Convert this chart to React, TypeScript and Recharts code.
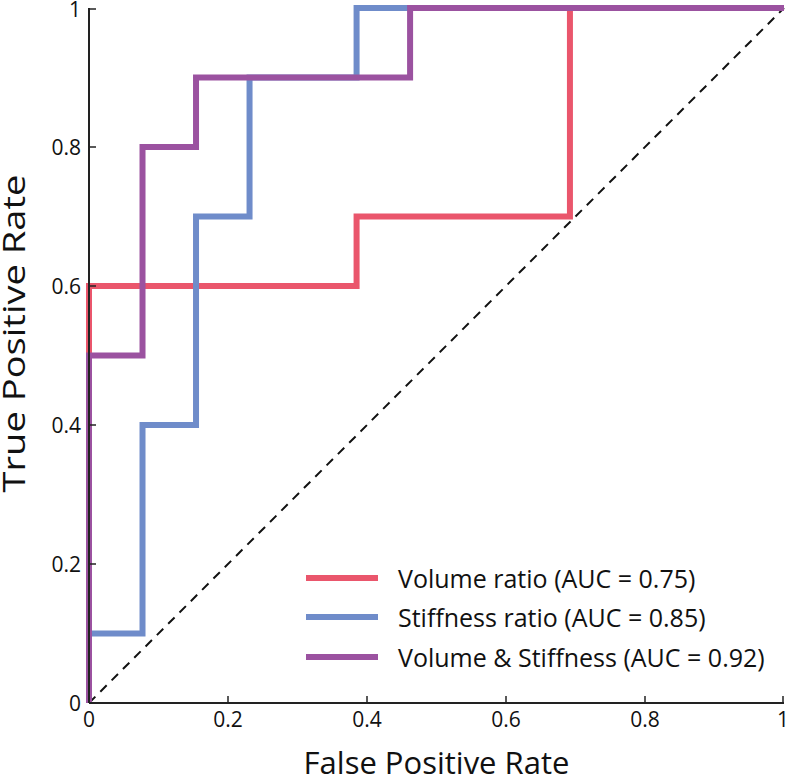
import React from 'react';
import { ComposedChart, Line, XAxis, YAxis, Legend } from 'recharts';

const tickValues = [0, 0.2, 0.4, 0.6, 0.8, 1];
const tickLabels = ['0', '0.2', '0.4', '0.6', '0.8', '1'];

const seriesNames = ['Volume ratio (AUC = 0.75)', 'Stiffness ratio (AUC = 0.85)', 'Volume & Stiffness (AUC = 0.92)'];

// chance diagonal
const chanceFpr = [0, 1];
const chanceTpr = [0, 1];

// ROC corner points (FPR steps of 1/13)
const volumeFpr = [0, 0, 0.385, 0.385, 0.692, 0.692, 1];
const volumeTpr = [0, 0.6, 0.6, 0.7, 0.7, 1, 1];

const stiffnessFpr = [0, 0, 0.077, 0.077, 0.154, 0.154, 0.231, 0.231, 0.385, 0.385, 1];
const stiffnessTpr = [0, 0.1, 0.1, 0.4, 0.4, 0.7, 0.7, 0.9, 0.9, 1, 1];

const combinedFpr = [0, 0, 0.077, 0.077, 0.154, 0.154, 0.462, 0.462, 1];
const combinedTpr = [0, 0.5, 0.5, 0.8, 0.8, 0.9, 0.9, 1, 1];

const toPoints = (fpr: number[], tpr: number[]) => fpr.map((x, i) => ({ fpr: x, tpr: tpr[i] }));

const FONT = '"Open Sans", "Noto Sans", sans-serif';
const AXIS = '#222';

const labelOf = (v: number) => tickLabels[tickValues.indexOf(v)] ?? String(v);

const BottomTick = (props: any) => {
  const { x, y, payload } = props;
  return (
    <g>
      <line x1={x} y1={y} x2={x} y2={y - 7} stroke={AXIS} strokeWidth={1.5} />
      <text x={x} y={y + 24} textAnchor="middle" fontSize={21} fill="#111" fontFamily={FONT}>
        {labelOf(payload.value)}
      </text>
    </g>
  );
};

const LeftTick = (props: any) => {
  const { x, y, payload } = props;
  return (
    <g>
      <line x1={x} y1={y} x2={x + 7} y2={y} stroke={AXIS} strokeWidth={1.5} />
      <text x={x - 8} y={y + 7.5} textAnchor="end" fontSize={21} fill="#111" fontFamily={FONT}>
        {labelOf(payload.value)}
      </text>
    </g>
  );
};

const TopTick = (props: any) => {
  const { x, y } = props;
  return <line x1={x} y1={y} x2={x} y2={y + 7} stroke={AXIS} strokeWidth={1.5} />;
};

const RightTick = (props: any) => {
  const { x, y } = props;
  return <line x1={x} y1={y} x2={x - 7} y2={y} stroke={AXIS} strokeWidth={1.5} />;
};

// y title is drawn a bit stretched in the original figure
const YTitle = (props: any) => {
  const { viewBox } = props;
  const cx = 25;
  const cy = viewBox.y + viewBox.height / 2 - 22;
  return (
    <text
      x={cx}
      y={cy}
      transform={`rotate(-90 ${cx} ${cy})`}
      textAnchor="middle"
      fontSize={31}
      fill="#111"
      fontFamily={FONT}
      textLength={318}
      lengthAdjust="spacingAndGlyphs"
    >
      True Positive Rate
    </text>
  );
};

const LegendRows = (props: any) => {
  const items = (props.payload || [])
    .filter((p: any) => seriesNames.includes(p.value))
    .sort((a: any, b: any) => seriesNames.indexOf(a.value) - seriesNames.indexOf(b.value));
  return (
    <div style={{ fontFamily: FONT }}>
      {items.map((p: any) => (
        <div key={p.value} style={{ display: 'flex', alignItems: 'center', height: 39.5 }}>
          <span style={{ display: 'inline-block', width: 72, height: 6, background: p.color, marginRight: 20 }} />
          <span style={{ fontSize: 25, color: '#111', whiteSpace: 'nowrap' }}>{p.value}</span>
        </div>
      ))}
    </div>
  );
};

export default function App() {
  return (
    <div style={{ position: 'absolute', left: 0, top: 0, background: '#fff', fontFamily: FONT }}>
      <ComposedChart width={787} height={777} margin={{ top: 8, right: 3, bottom: 0, left: 0 }}>
        <XAxis
          xAxisId="bottom"
          dataKey="fpr"
          type="number"
          domain={[0, 1]}
          ticks={tickValues}
          height={74}
          axisLine={{ stroke: AXIS, strokeWidth: 2 }}
          tickLine={false}
          tickSize={0}
          tickMargin={0}
          tick={<BottomTick />}
          label={{ value: 'False Positive Rate', position: 'insideBottom', offset: 3, fontSize: 31, fill: '#111', fontFamily: FONT }}
        />
        <XAxis
          xAxisId="top"
          orientation="top"
          dataKey="fpr"
          type="number"
          domain={[0, 1]}
          ticks={tickValues}
          height={0}
          axisLine={{ stroke: AXIS, strokeWidth: 2 }}
          tickLine={false}
          tickSize={0}
          tickMargin={0}
          tick={<TopTick />}
        />
        <YAxis
          yAxisId="left"
          dataKey="tpr"
          type="number"
          domain={[0, 1]}
          ticks={tickValues}
          width={89}
          axisLine={{ stroke: AXIS, strokeWidth: 2 }}
          tickLine={false}
          tickSize={0}
          tickMargin={0}
          tick={<LeftTick />}
          label={{ value: 'True Positive Rate', position: 'insideLeft', content: <YTitle /> }}
        />
        <YAxis
          yAxisId="right"
          orientation="right"
          dataKey="tpr"
          type="number"
          domain={[0, 1]}
          ticks={tickValues}
          width={0}
          axisLine={{ stroke: AXIS, strokeWidth: 2 }}
          tickLine={false}
          tickSize={0}
          tickMargin={0}
          tick={<RightTick />}
        />
        <Legend
          layout="vertical"
          align="center"
          verticalAlign="middle"
          content={<LegendRows />}
          wrapperStyle={{ position: 'absolute', left: 306, top: 558, width: 480 }}
        />
        <Line
          xAxisId="top"
          yAxisId="right"
          data={toPoints(chanceFpr, chanceTpr)}
          dataKey="tpr"
          name="chance"
          legendType="none"
          stroke="#111"
          strokeWidth={2}
          strokeDasharray="9 7"
          dot={false}
          activeDot={false}
          isAnimationActive={false}
        />
        <Line
          xAxisId="bottom"
          yAxisId="left"
          data={toPoints(volumeFpr, volumeTpr)}
          dataKey="tpr"
          name={seriesNames[0]}
          stroke="#EA566C"
          strokeWidth={6}
          strokeLinejoin="miter"
          dot={false}
          activeDot={false}
          isAnimationActive={false}
        />
        <Line
          xAxisId="bottom"
          yAxisId="left"
          data={toPoints(stiffnessFpr, stiffnessTpr)}
          dataKey="tpr"
          name={seriesNames[1]}
          stroke="#6F8CCA"
          strokeWidth={6}
          strokeLinejoin="miter"
          dot={false}
          activeDot={false}
          isAnimationActive={false}
        />
        <Line
          xAxisId="bottom"
          yAxisId="left"
          data={toPoints(combinedFpr, combinedTpr)}
          dataKey="tpr"
          name={seriesNames[2]}
          stroke="#9B52A0"
          strokeWidth={6}
          strokeLinejoin="miter"
          dot={false}
          activeDot={false}
          isAnimationActive={false}
        />
      </ComposedChart>
    </div>
  );
}
